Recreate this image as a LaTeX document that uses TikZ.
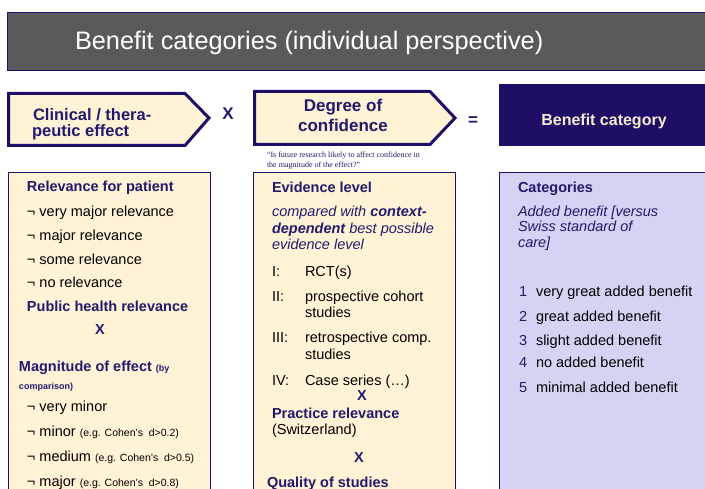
\documentclass[tikz,border=0pt]{standalone}
\usepackage{fontspec}
\setmainfont{Liberation Sans}
\newfontfamily\qfont[Ligatures=TeX]{Liberation Serif}
\definecolor{navy}{HTML}{1E0E66}
\definecolor{ntext}{HTML}{221A6C}
\definecolor{cream}{HTML}{FFF2D5}
\definecolor{lav}{HTML}{D3D3F4}
\definecolor{tgrey}{HTML}{5A5A5A}
\definecolor{ctext}{HTML}{F6ECD4}
\begin{document}
\begin{tikzpicture}[x=1pt,y=-1pt,
  t/.style={inner sep=0pt, outer sep=0pt, anchor=base west, text=black, font=\fontsize{14.5}{16.5}\selectfont},
  hd/.style={t, text=ntext, font=\fontsize{14.5}{16.5}\selectfont\bfseries},
  it/.style={t, text=ntext, font=\fontsize{14.5}{16.5}\selectfont\itshape},
  big/.style={inner sep=0pt, outer sep=0pt, anchor=base, text=ntext, font=\fontsize{17}{20}\selectfont\bfseries},
  arrowbox/.style={draw=navy, fill=cream, line width=3pt, line join=miter},
  panel/.style={draw=navy, line width=1.5pt},
  sm/.style={font=\fontsize{10.5}{12}\selectfont}
]
\useasboundingbox (0,0) rectangle (705,489);
\clip (0,0) rectangle (705,489);

% title bar
\path[draw=navy, line width=1pt, fill=tgrey] (7.5,12.5) rectangle (712,70.5);
\node[t, text=white, font=\fontsize{25.3}{28}\selectfont] (title) at (75,50) {Benefit categories (individual perspective)};

% top row
\draw[arrowbox] (8.5,93.5) -- (185,93.5) -- (209,118) -- (185,145.5) -- (8.5,145.5) -- cycle;
\node[big, anchor=base west, font=\fontsize{16.5}{18}\selectfont\bfseries] (c1) at (33,121) {Clinical / thera-};
\node[big, anchor=base west, font=\fontsize{16.5}{18}\selectfont\bfseries] (c2) at (32,137) {peutic effect};
\node[big] (times1) at (228,120) {X};

\draw[arrowbox] (254.5,91.5) -- (430,91.5) -- (455,118) -- (430,144.5) -- (254.5,144.5) -- cycle;
\node[big] (d1) at (343,112) {Degree of};
\node[big] (d2) at (343,132) {confidence};
\node[big] (eq) at (473,126) {=};

\path[fill=navy] (499,84) rectangle (712,146);
\node[big, text=ctext, font=\fontsize{16}{18}\selectfont\bfseries] (bc) at (604,126) {Benefit category};

\node[t, text=ntext, font=\fontsize{8}{9}\qfont] (q1) at (267,157.5) {“Is future research likely to affect confidence in};
\node[t, text=ntext, font=\fontsize{8}{9}\qfont] (q2) at (267,167.5) {the magnitude of the effect?”};

% panels
\path[panel, fill=cream] (8.5,172.5) rectangle (210.5,500);
\path[panel, fill=cream] (253.5,172.5) rectangle (455.5,500);
\path[panel, fill=lav] (499.5,172.5) rectangle (720,500);

% left panel
\node[hd] (l1) at (27,192) {Relevance for patient};
\node[t] (l2) at (27,217) {¬ very major relevance};
\node[t] (l3) at (27,241) {¬ major relevance};
\node[t] (l4) at (27,265) {¬ some relevance};
\node[t] (l5) at (27,288) {¬ no relevance};
\node[hd] (l6) at (27,312) {Public health relevance};
\node[hd, anchor=base] (l7) at (100,335) {X};
\node[hd] (l8) at (19,371) {Magnitude of effect {\fontsize{9}{10}\selectfont(by}};
\node[hd, font=\fontsize{9}{10}\selectfont\bfseries] (l9) at (19,389.5) {comparison)};
\node[t] (l10) at (27,412) {¬ very minor};
\node[t] (l11) at (27,436) {¬ minor {\fontsize{10.5}{12}\selectfont(e.g. Cohen's\ \ d>0.2)}};
\node[t] (l12) at (27,461) {¬ medium {\fontsize{10.5}{12}\selectfont(e.g. Cohen's\ \ d>0.5)}};
\node[t] (l13) at (27,486) {¬ major {\fontsize{10.5}{12}\selectfont(e.g. Cohen's\ \ d>0.8)}};

% middle panel
\node[hd] (m1) at (272,193) {Evidence level};
\node[it] (m2) at (272,217) {compared with \textbf{context-}};
\node[it] (m3) at (272,234) {\textbf{dependent} best possible};
\node[it] (m4) at (272,250) {evidence level};
\node[t] (m5a) at (272,277) {I:};
\node[t] (m5b) at (305,277) {RCT(s)};
\node[t] (m6a) at (272,302) {II:};
\node[t] (m6b) at (305,302) {prospective cohort};
\node[t] (m6c) at (305,318) {studies};
\node[t] (m7a) at (272,343) {III:};
\node[t] (m7b) at (305,343) {retrospective comp.};
\node[t] (m7c) at (305,360) {studies};
\node[t] (m8a) at (272,386) {IV:};
\node[t] (m8b) at (305,386) {Case series (…)};
\node[hd, anchor=base] (m9) at (362,401) {X};
\node[hd] (m10) at (272,418) {Practice relevance};
\node[t] (m11) at (272,435) {(Switzerland)};
\node[hd, anchor=base] (m12) at (359,462) {X};
\node[hd] (m13) at (267,487.5) {Quality of studies};

% right panel
\node[hd] (r1) at (518,193) {Categories};
\node[it] (r2) at (518,217) {Added benefit [versus};
\node[it] (r3) at (518,232) {Swiss standard of};
\node[it] (r4) at (518,248) {care]};
\foreach \n/\y/\s in {1/297/very great added benefit, 2/322/great added benefit, 3/345/slight added benefit, 4/368/no added benefit, 5/392/minimal added benefit}{
  \node[t, text=ntext] (rn\n) at (519,\y) {\n};
  \node[t] (rt\n) at (536,\y) {\s};
}
\end{tikzpicture}
\end{document}
